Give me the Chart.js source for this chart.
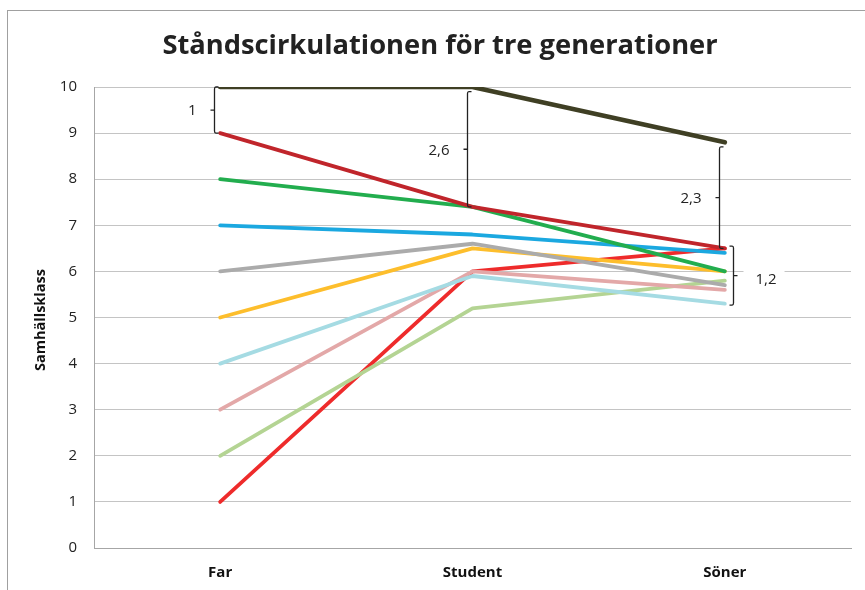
<!DOCTYPE html>
<html>
<head>
<meta charset="utf-8">
<title>Ståndscirkulationen för tre generationer</title>
<script src="https://cdn.jsdelivr.net/npm/chart.js@4"></script>
<style>
    body { margin: 0; background: #fff; }
    #wrap { width: 865px; height: 590px; position: relative; }
</style>
</head>
<body>
<div id="wrap"><canvas id="chart"></canvas></div>
<script>
// Data
const categories = ['Far', 'Student', 'Söner'];
const yTicks = [0, 1, 2, 3, 4, 5, 6, 7, 8, 9, 10];

const olive = [10, 10, 8.8];
const darkRed = [9, 7.4, 6.5];
const green = [8, 7.4, 6.0];
const blue = [7, 6.8, 6.4];
const gray = [6, 6.6, 5.7];
const yellow = [5, 6.5, 6.0];
const lightBlue = [4, 5.9, 5.3];
const pink = [3, 6.0, 5.6];
const lightGreen = [2, 5.2, 5.8];
const red = [1, 6.0, 6.5];

// Differences marked with brackets: category index, from value, to value
const bracketLabels = ['1', '2,6', '2,3', '1,2'];
const bracketCats = [0, 1, 2, 2];
const bracketFrom = [10, 9.9, 8.7, 6.55];
const bracketTo = [9, 7.4, 6.5, 5.27];
const bracketSide = ['left', 'left', 'left', 'right'];

const FONT = "'Open Sans', 'Noto Sans', sans-serif";

function makeSet(data, color, width) {
    return {
        data: data,
        borderColor: color,
        backgroundColor: color,
        borderWidth: width || 3.8,
        pointRadius: 0,
        pointHoverRadius: 0,
        tension: 0,
        borderCapStyle: 'round',
        borderJoinStyle: 'round',
        fill: false
    };
}

// Title, axis title, frame and brackets
const decorPlugin = {
    id: 'decor',
    beforeDraw(chart) {
        const ctx = chart.ctx;
        ctx.save();
        ctx.strokeStyle = '#a0a0a0';
        ctx.lineWidth = 1;
        ctx.strokeRect(7.5, 10.5, 900, 700);
        ctx.restore();
    },
    afterDraw(chart) {
        const ctx = chart.ctx;
        const x = chart.scales.x;
        const y = chart.scales.y;
        ctx.save();

        // Title
        const title = 'Ståndscirkulationen för tre generationer';
        ctx.font = 'bold 100px ' + FONT;
        const w = ctx.measureText(title).width;
        const size = Math.round(100 * 555 / w * 10) / 10;
        ctx.font = 'bold ' + size + 'px ' + FONT;
        ctx.fillStyle = '#222';
        ctx.textAlign = 'center';
        ctx.textBaseline = 'middle';
        ctx.fillText(title, 440, 46);

        // Y axis title
        ctx.save();
        ctx.translate(41, 320);
        ctx.rotate(-Math.PI / 2);
        ctx.font = 'bold 14.5px ' + FONT;
        ctx.fillStyle = '#111';
        ctx.fillText('Samhällsklass', 0, 0);
        ctx.restore();

        // Brackets
        ctx.strokeStyle = '#222';
        ctx.lineWidth = 1.3;
        ctx.font = '15px ' + FONT;
        ctx.fillStyle = '#222';
        ctx.textBaseline = 'middle';
        for (let i = 0; i < bracketLabels.length; i++) {
            const cx = x.getPixelForValue(bracketCats[i]);
            const y1 = y.getPixelForValue(bracketFrom[i]);
            const y2 = y.getPixelForValue(bracketTo[i]);
            const ym = (y1 + y2) / 2;
            const left = bracketSide[i] === 'left';
            const bx = Math.round(cx + (left ? -6 : 8)) + 0.5;
            const end = left ? 4 : -4;
            ctx.beginPath();
            ctx.moveTo(bx + end, y1);
            ctx.lineTo(bx + end / 3, y1);
            ctx.quadraticCurveTo(bx, y1, bx, y1 + 2);
            ctx.lineTo(bx, y2 - 2);
            ctx.quadraticCurveTo(bx, y2, bx + end / 3, y2);
            ctx.lineTo(bx + end, y2);
            ctx.moveTo(bx, ym);
            ctx.lineTo(bx - end, ym);
            ctx.stroke();
            if (left) {
                ctx.textAlign = 'right';
                ctx.fillText(bracketLabels[i], bx - 18, ym + 1);
            } else {
                ctx.textAlign = 'left';
                const tw = ctx.measureText(bracketLabels[i]).width;
                ctx.fillStyle = '#fff';
                ctx.fillRect(bx + 10, ym - 9, tw + 20, 18);
                ctx.fillStyle = '#222';
                ctx.fillText(bracketLabels[i], bx + 22, ym + 4);
            }
        }
        ctx.restore();
    }
};

const ctx = document.getElementById('chart').getContext('2d');
new Chart(ctx, {
    type: 'line',
    data: {
        labels: categories,
        datasets: [
            makeSet(olive, '#3f3f24', 4.6),
            makeSet(darkRed, '#c0252b'),
            makeSet(green, '#22ad4e'),
            makeSet(blue, '#1ba8e0'),
            makeSet(gray, '#ababab'),
            makeSet(yellow, '#fdbe2c'),
            makeSet(lightBlue, '#a5dbe3'),
            makeSet(pink, '#e3a8a8'),
            makeSet(lightGreen, '#b4d493'),
            makeSet(red, '#ee2b2b')
        ]
    },
    options: {
        responsive: true,
        maintainAspectRatio: false,
        animation: false,
        layout: { padding: { left: 0, top: 87, right: 14, bottom: 0 } },
        plugins: {
            legend: { display: false },
            tooltip: { enabled: false },
            title: { display: false }
        },
        scales: {
            x: {
                offset: true,
                grid: { display: false, drawTicks: false },
                border: { color: '#a6a6a6', width: 1 },
                ticks: {
                    padding: 16,
                    color: '#111',
                    font: { family: FONT, size: 15, weight: 'bold' }
                },
                afterFit(scale) { scale.height = 42; }
            },
            y: {
                min: 0,
                max: 10,
                afterBuildTicks(scale) {
                    scale.ticks = yTicks.map(v => ({ value: v }));
                },
                grid: { color: '#c4c4c4', drawTicks: false },
                border: { color: '#a6a6a6', width: 1 },
                ticks: {
                    padding: 17,
                    color: '#222',
                    font: { family: FONT, size: 15 }
                },
                afterFit(scale) { scale.width = 94; }
            }
        }
    },
    plugins: [decorPlugin]
});
</script>
</body>
</html>
